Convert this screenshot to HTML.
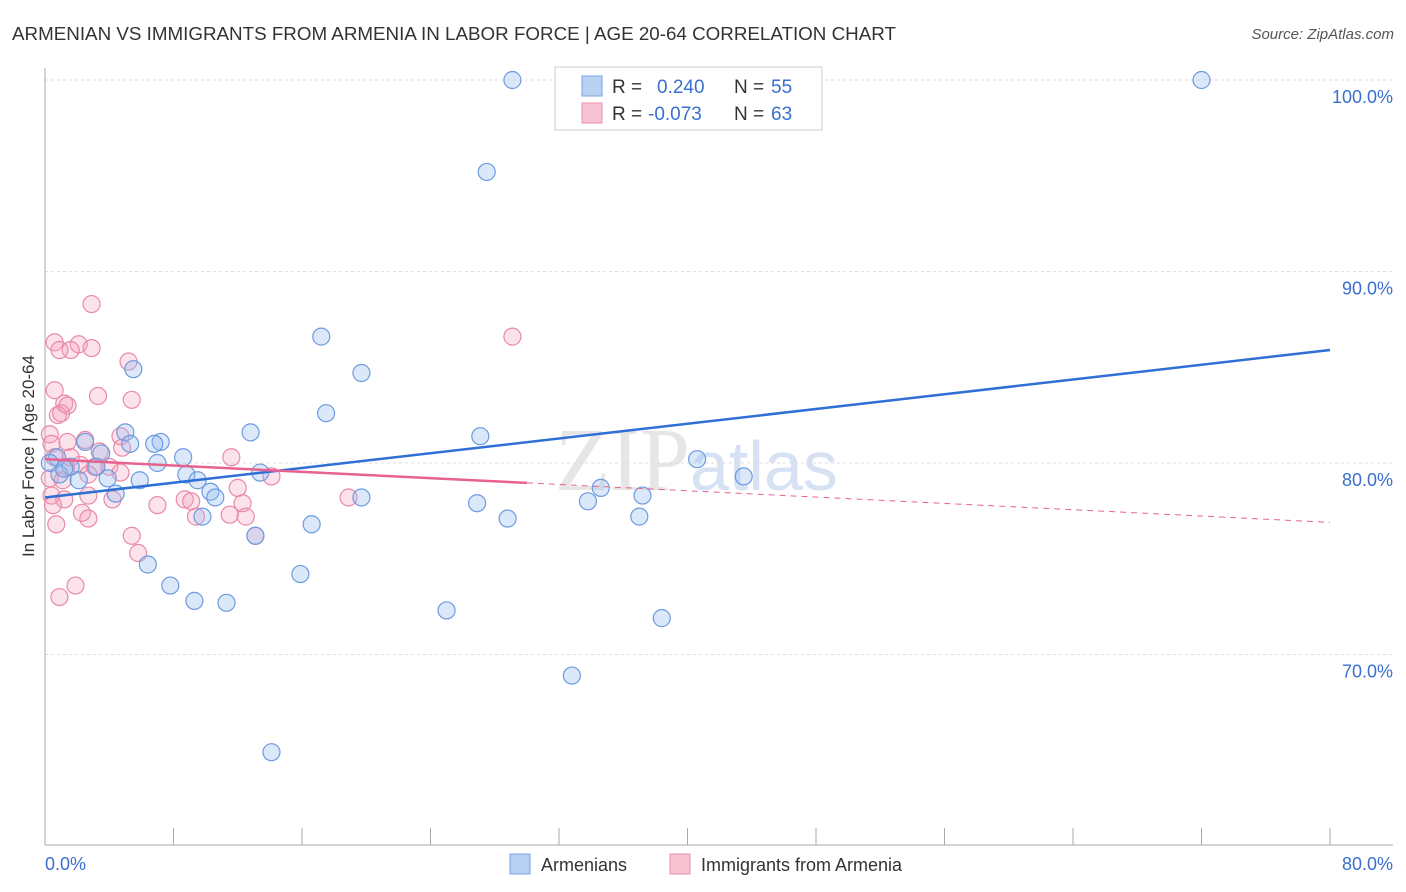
<!DOCTYPE html>
<html><head><meta charset="utf-8"><style>
body{margin:0;background:#fff;font-family:"Liberation Sans",sans-serif}
svg{display:block}
</style></head><body>
<svg id="c" width="1406" height="892">
<text x="12" y="40" font-size="18.8" fill="#333">ARMENIAN VS IMMIGRANTS FROM ARMENIA IN LABOR FORCE | AGE 20-64 CORRELATION CHART</text>
<text x="1394" y="39" font-size="15" fill="#555" font-style="italic" text-anchor="end">Source: ZipAtlas.com</text>
<text x="555" y="490" font-size="90" fill="#e6e6e6" font-family="Liberation Serif">ZIP<tspan fill="#d6e2f3" font-family="Liberation Sans" font-size="70">atlas</tspan></text>
<g id="grid"></g><g id="pts"></g><g id="lines"></g>
<text transform="translate(34,456) rotate(-90)" font-size="17" fill="#333" text-anchor="middle">In Labor Force | Age 20-64</text>
<text x="45" y="870" font-size="18" fill="#3a6fd0">0.0%</text>
<text x="1393" y="870" font-size="18" fill="#3a6fd0" text-anchor="end">80.0%</text>
<g>
<rect x="555" y="67" width="267" height="63" fill="#fff" stroke="#ccc"/>
<rect x="582" y="76" width="20" height="20" fill="#b8d1f3" stroke="#7aa3e0"/>
<rect x="582" y="103" width="20" height="20" fill="#f8c4d4" stroke="#e891ab"/>
<text x="612" y="93" font-size="19" fill="#333">R =</text>
<text x="657" y="93" font-size="19" fill="#3a6fd0">0.240</text>
<text x="734" y="93" font-size="19" fill="#333">N =</text>
<text x="771" y="93" font-size="19" fill="#3a6fd0">55</text>
<text x="612" y="120" font-size="19" fill="#333">R =</text>
<text x="648" y="120" font-size="19" fill="#3a6fd0">-0.073</text>
<text x="734" y="120" font-size="19" fill="#333">N =</text>
<text x="771" y="120" font-size="19" fill="#3a6fd0">63</text>
</g>
<g>
<rect x="510" y="854" width="20" height="20" fill="#b8d1f3" stroke="#7aa3e0"/>
<text x="541" y="871" font-size="18" fill="#333">Armenians</text>
<rect x="670" y="854" width="20" height="20" fill="#f8c4d4" stroke="#e891ab"/>
<text x="701" y="871" font-size="18" fill="#333">Immigrants from Armenia</text>
</g>
</svg>
<script>
const yTicks=[100,90,80,70];
const xTicks=[0,8,16,24,32,40,48,56,64,72,80];
const blueX=[29.1,72.0,27.5,17.2,19.7,5.5,17.5,12.8,5.0,27.1,2.5,7.2,5.3,6.8,3.5,8.6,40.6,0.75,0.3,7.0,3.2,1.6,13.4,8.8,43.5,0.9,3.9,5.9,2.1,9.5,34.6,10.3,4.4,10.6,19.7,37.2,33.8,26.9,9.8,28.8,37.0,16.6,13.1,6.4,7.8,15.9,9.3,11.3,25.0,38.4,32.8,14.1,1.2];
const blueY=[100,100,95.2,86.6,84.7,84.9,82.6,81.6,81.6,81.4,81.1,81.1,81.0,81.0,80.5,80.3,80.2,80.3,80.0,80.0,79.8,79.8,79.5,79.4,79.3,79.4,79.2,79.1,79.1,79.1,78.7,78.5,78.4,78.2,78.2,78.3,78.0,77.9,77.2,77.1,77.2,76.8,76.2,74.7,73.6,74.2,72.8,72.7,72.3,71.9,68.9,64.9,79.7];
const pinkX=[2.9,0.6,2.1,1.6,2.9,0.9,5.2,29.1,0.6,3.3,5.4,1.2,1.4,0.8,1.0,0.3,0.4,2.5,4.7,1.4,4.8,3.4,11.6,0.6,1.6,2.2,1.3,3.1,4.0,4.7,14.1,0.3,2.7,1.1,12.0,0.4,2.7,1.2,4.2,8.7,9.1,18.9,12.3,0.5,7.0,2.3,11.5,9.4,12.5,2.7,0.7,13.1,5.4,5.8,1.9,0.9];
const pinkY=[88.3,86.3,86.2,85.9,86.0,85.9,85.3,86.6,83.8,83.5,83.3,83.1,83.0,82.5,82.6,81.5,81.0,81.2,81.4,81.1,80.8,80.6,80.3,80.3,80.3,79.9,79.8,79.8,79.8,79.5,79.3,79.2,79.4,79.1,78.7,78.3,78.3,78.1,78.1,78.1,78.0,78.2,77.9,77.8,77.8,77.4,77.3,77.2,77.2,77.1,76.8,76.2,76.2,75.3,73.6,73.0];
const blueTrend=[78.2,85.9];
const pinkTrend=[80.2,76.9];
const X=v=>45+v/80*1285, Y=v=>80+(100-v)*19.15;
const NS="http://www.w3.org/2000/svg";
function mk(p,t,a){const e=document.createElementNS(NS,t);for(const k in a)e.setAttribute(k,a[k]);p.appendChild(e);return e;}
const g=document.getElementById('grid');
yTicks.forEach(t=>{
 const l=mk(g,'line',{x1:45,x2:1393,y1:Y(t),y2:Y(t),stroke:'#ddd','stroke-dasharray':'3,3'});
 
 
 const tx=mk(g,'text',{x:1393,y:Y(t)+23,'font-size':18,fill:'#3a6fd0','text-anchor':'end'});tx.textContent=t.toFixed(1)+'%';
 
 
});
mk(g,'line',{x1:45,x2:45,y1:68,y2:845,stroke:'#aaa'});
mk(g,'line',{x1:45,x2:1393,y1:845,y2:845,stroke:'#aaa'});
xTicks.forEach(t=>{const l=mk(g,'line',{x1:X(t),x2:X(t),y1:828,y2:845,stroke:'#aaa'});
 
 });
const P=document.getElementById('pts');
pinkX.forEach((x,i)=>{const c=mk(P,'circle',{cx:X(x),cy:Y(pinkY[i]),r:8.5,fill:'rgba(244,160,185,0.3)',stroke:'#e98aa8','stroke-width':1.2});
 
 });
blueX.forEach((x,i)=>{const c=mk(P,'circle',{cx:X(x),cy:Y(blueY[i]),r:8.5,fill:'rgba(150,190,240,0.35)',stroke:'#6d9be0','stroke-width':1.2});
 
 });
const L=document.getElementById('lines');
const pm=v=>pinkTrend[0]+(pinkTrend[1]-pinkTrend[0])*v/80;
let b=mk(L,'line',{x1:X(0),y1:Y(blueTrend[0]),x2:X(80),y2:Y(blueTrend[1]),stroke:'#2f6fd6','stroke-width':2.5});


let p1=mk(L,'line',{x1:X(0),y1:Y(pm(0)),x2:X(30),y2:Y(pm(30)),stroke:'#e8628f','stroke-width':2.5});


let p2=mk(L,'line',{x1:X(30),y1:Y(pm(30)),x2:X(80),y2:Y(pm(80)),stroke:'#e8628f','stroke-width':1,'stroke-dasharray':'6,5'});


</script>
</body></html>
